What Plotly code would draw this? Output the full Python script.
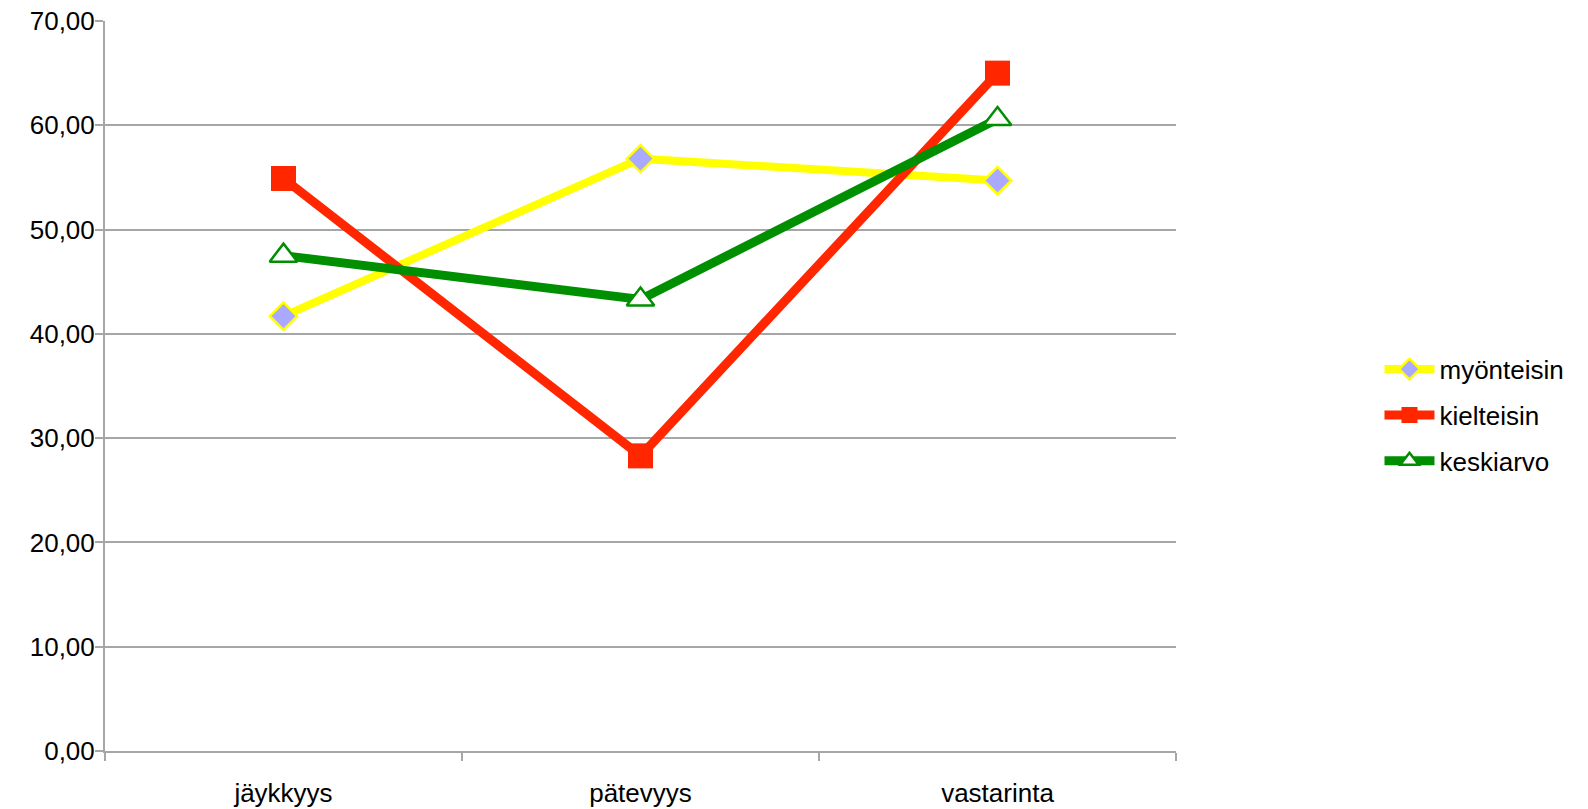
import plotly.graph_objects as go

categories = ["jäykkyys", "pätevyys", "vastarinta"]
myonteisin = [41.7, 56.8, 54.7]
kielteisin = [54.9, 28.3, 65.0]
keskiarvo = [47.5, 43.3, 60.6]

fig = go.Figure()
fig.add_trace(go.Scatter(
    x=categories, y=myonteisin, name="myönteisin", mode="lines+markers", legendgroup="a",
    line=dict(color="#FFFF00", width=8),
    marker=dict(symbol="diamond", size=21, color="#A9A9FF", line=dict(color="#FFFF00", width=2.5)),
))
fig.add_trace(go.Scatter(
    x=categories, y=kielteisin, name="kielteisin", mode="lines+markers", legendgroup="b",
    line=dict(color="#FF2600", width=9),
    marker=dict(symbol="square", size=25, color="#FF2600", line=dict(color="#FF2600", width=0)),
))
fig.add_trace(go.Scatter(
    x=categories, y=keskiarvo, name="keskiarvo", mode="lines+markers", legendgroup="c",
    line=dict(color="#008F00", width=9),
    marker=dict(symbol="triangle-up", size=24, color="#FFFFFF", line=dict(color="#008F00", width=2.5)),
))

font = "Liberation Sans, Arial, Helvetica, sans-serif"
fig.update_layout(
    width=1588, height=809,
    margin=dict(l=105, r=412, t=21, b=58),
    paper_bgcolor="white", plot_bgcolor="white",
    separators=", ",
    font=dict(family=font, size=24, color="#000000"),
    showlegend=True,
    legend=dict(
        x=1.19, y=0.46, xanchor="left", yanchor="middle",
        font=dict(family=font, size=26, color="#000000"),
        itemwidth=50, tracegroupgap=9, bgcolor="rgba(0,0,0,0)", borderwidth=0,
    ),
)
fig.update_xaxes(
    type="category", range=[-0.5, 2.5], automargin=False,
    showline=True, linecolor="#A6A6A6", linewidth=2,
    ticks="outside", tickson="boundaries", ticklen=8, tickcolor="#A6A6A6", tickwidth=2,
    showgrid=False, ticklabelstandoff=18,
    tickfont=dict(family=font, size=26, color="#000000"),
)
fig.update_yaxes(
    range=[0, 70], dtick=10, tickformat=".2f", automargin=False,
    showline=True, linecolor="#A6A6A6", linewidth=2,
    ticks="outside", ticklen=8, tickcolor="#A6A6A6", tickwidth=2,
    showgrid=True, gridcolor="#A6A6A6", gridwidth=2,
    zeroline=False, ticklabelstandoff=-5,
    tickfont=dict(family=font, size=26, color="#000000"),
)

fig.write_html("out.html")
